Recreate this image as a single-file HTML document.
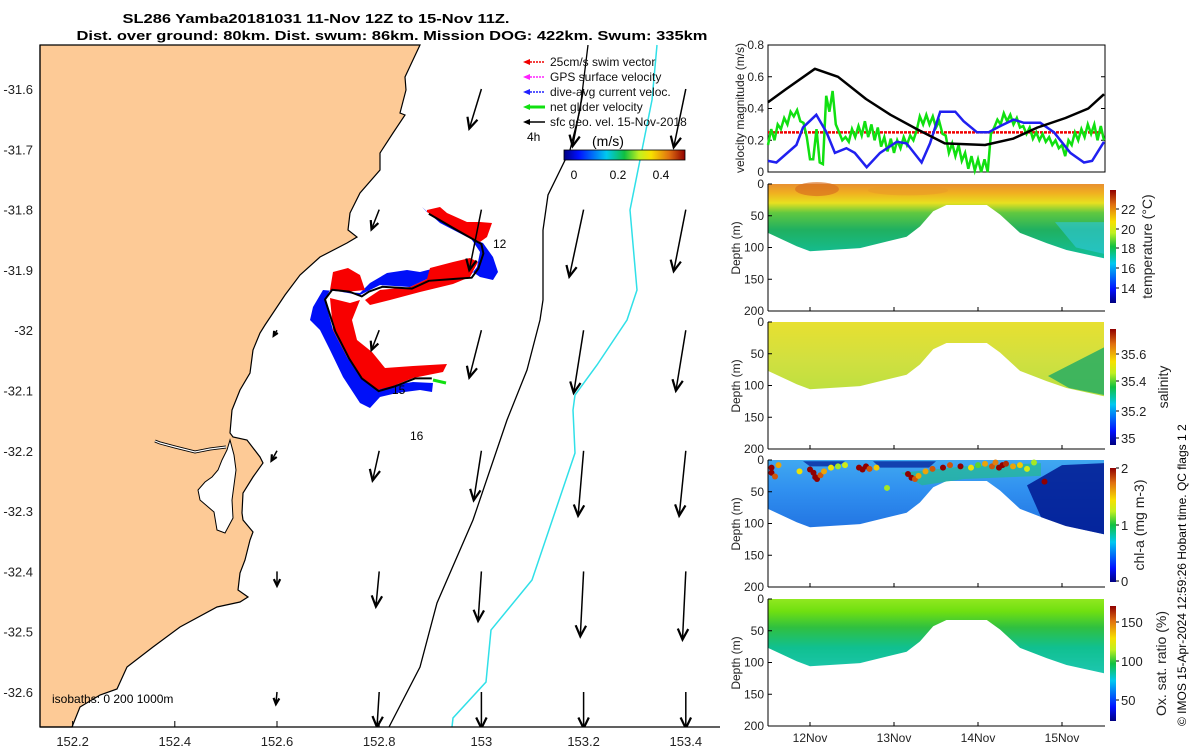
<!DOCTYPE html>
<html><head><meta charset="utf-8"><title>SL286 glider map</title>
<style>
html,body{margin:0;padding:0;background:#fff;}
svg{display:block;font-family:"Liberation Sans","DejaVu Sans",sans-serif;}
</style></head>
<body>
<svg id="fig" width="1200" height="750" viewBox="0 0 1200 750" xmlns="http://www.w3.org/2000/svg">
<defs>
<linearGradient id="jetV" x1="0" y1="1" x2="0" y2="0">
<stop offset="0" stop-color="#000080"/><stop offset="0.12" stop-color="#0010ff"/><stop offset="0.35" stop-color="#00c8f0"/><stop offset="0.5" stop-color="#10c040"/><stop offset="0.62" stop-color="#c0f020"/><stop offset="0.72" stop-color="#f8e000"/><stop offset="0.87" stop-color="#e07010"/><stop offset="1" stop-color="#900000"/>
</linearGradient>
<linearGradient id="jetH" x1="0" y1="0" x2="1" y2="0">
<stop offset="0" stop-color="#000080"/><stop offset="0.12" stop-color="#0010ff"/><stop offset="0.35" stop-color="#00c8f0"/><stop offset="0.5" stop-color="#10c040"/><stop offset="0.62" stop-color="#c0f020"/><stop offset="0.72" stop-color="#f8e000"/><stop offset="0.87" stop-color="#e07010"/><stop offset="1" stop-color="#900000"/>
</linearGradient>
<linearGradient id="gTemp" gradientUnits="userSpaceOnUse" x1="0" y1="184" x2="0" y2="260">
<stop offset="0" stop-color="#e89030"/><stop offset="0.12" stop-color="#f0b020"/><stop offset="0.25" stop-color="#e8e020"/><stop offset="0.38" stop-color="#60c840"/><stop offset="0.6" stop-color="#20b060"/><stop offset="1" stop-color="#10c0a0"/>
</linearGradient>
<linearGradient id="gSal" gradientUnits="userSpaceOnUse" x1="0" y1="322" x2="0" y2="400">
<stop offset="0" stop-color="#e8e030"/><stop offset="0.5" stop-color="#d0e040"/><stop offset="1" stop-color="#b8e040"/>
</linearGradient>
<linearGradient id="gChl" gradientUnits="userSpaceOnUse" x1="0" y1="460" x2="0" y2="535">
<stop offset="0" stop-color="#40a8f0"/><stop offset="0.4" stop-color="#3090f0"/><stop offset="1" stop-color="#2070e0"/>
</linearGradient>
<linearGradient id="gOx" gradientUnits="userSpaceOnUse" x1="0" y1="599" x2="0" y2="680">
<stop offset="0" stop-color="#90e820"/><stop offset="0.15" stop-color="#70e010"/><stop offset="0.35" stop-color="#30c040"/><stop offset="0.6" stop-color="#10c090"/><stop offset="1" stop-color="#20c8b8"/>
</linearGradient>
<clipPath id="mapClip"><rect x="40" y="45" width="680" height="682"/></clipPath>
</defs>

<text x="316" y="23" text-anchor="middle" font-size="13" font-weight="bold" textLength="387" lengthAdjust="spacingAndGlyphs">SL286 Yamba20181031 11-Nov 12Z to 15-Nov 11Z.</text>
<text x="392" y="40" text-anchor="middle" font-size="13" font-weight="bold" textLength="631" lengthAdjust="spacingAndGlyphs">Dist. over ground: 80km. Dist. swum: 86km. Mission DOG: 422km. Swum: 335km</text>

<g id="map"></g>
<g id="vel"></g>
<g id="sections"></g>
<text transform="translate(1186,726) rotate(-90)" font-size="12">© IMOS 15-Apr-2024 12:59:26 Hobart time. QC flags 1  2</text>
</svg>
<script>
const lonTicks = [152.2,152.4,152.6,152.8,153,153.2,153.4];
const latTicks = [-31.6,-31.7,-31.8,-31.9,-32,-32.1,-32.2,-32.3,-32.4,-32.5,-32.6];
const geoLon = [153.0,153.2,153.4, 152.8,153.0,153.2,153.4, 152.6,152.8,153.0,153.2,153.4, 152.6,152.8,153.0,153.2,153.4, 152.6,152.8,153.0,153.2,153.4, 152.6,152.8,153.0,153.2,153.4];
const geoLat = [-31.6,-31.6,-31.6, -31.8,-31.8,-31.8,-31.8, -32.0,-32.0,-32.0,-32.0,-32.0, -32.2,-32.2,-32.2,-32.2,-32.2, -32.4,-32.4,-32.4,-32.4,-32.4, -32.6,-32.6,-32.6,-32.6,-32.6];
const geoU = [-0.11,-0.10,-0.11, -0.07,-0.11,-0.13,-0.11, -0.03,-0.07,-0.11,-0.09,-0.09, -0.05,-0.06,-0.07,-0.05,-0.06, 0.0,-0.03,-0.03,-0.03,-0.03, -0.01,-0.02,0.0,0.0,0.0];
const geoV = [-0.36,-0.52,-0.53, -0.18,-0.55,-0.61,-0.56, -0.05,-0.18,-0.43,-0.57,-0.55, -0.09,-0.27,-0.45,-0.59,-0.59, -0.13,-0.32,-0.45,-0.59,-0.62, -0.11,-0.32,-0.33,-0.33,-0.33];
const blackH = [0,5,13.4,20,28,35,42.5,50.5,62,70,77,85,91.5,96];
const blackV = [0.44,0.52,0.65,0.60,0.46,0.36,0.27,0.18,0.17,0.21,0.28,0.34,0.40,0.49];
const blueH = [0,2.4,8.1,10,13.8,16.7,19.1,22.4,24.8,28.2,32,36.8,39.6,43.9,46.3,49.2,53.5,55.9,59.7,63,66.4,70.2,73.1,77.8,81.7,86.4,90.3,92.6,96];
const blueV = [0.07,0.06,0.17,0.28,0.36,0.25,0.12,0.15,0.12,0.03,0.12,0.19,0.18,0.06,0.18,0.38,0.38,0.32,0.25,0.25,0.29,0.33,0.31,0.31,0.25,0.12,0.06,0.07,0.19];
const greenV = [0.17,0.27,0.2,0.3,0.27,0.34,0.3,0.38,0.35,0.39,0.32,0.31,0.22,0.08,0.08,0.27,0.06,0.05,0.48,0.38,0.51,0.3,0.25,0.2,0.22,0.19,0.27,0.22,0.29,0.23,0.32,0.22,0.3,0.2,0.28,0.16,0.22,0.13,0.21,0.12,0.2,0.15,0.22,0.17,0.23,0.2,0.26,0.35,0.3,0.36,0.3,0.35,0.28,0.32,0.24,0.23,0.12,0.18,0.1,0.17,0.07,0.12,0.02,0.1,0.01,0.08,0.0,0.08,0.0,0.24,0.28,0.33,0.3,0.37,0.32,0.36,0.3,0.34,0.28,0.29,0.24,0.28,0.21,0.25,0.2,0.24,0.19,0.22,0.17,0.2,0.15,0.17,0.1,0.2,0.17,0.25,0.2,0.27,0.22,0.3,0.24,0.3,0.2,0.29,0.2];
const swimSpeed = 0.25;
const velTicks = [0,0.2,0.4,0.6,0.8];
const botH = [0,8.2,12,26.3,39.6,43.4,47.2,51,62.5,66.3,72,79.6,85.3,96];
const botD = [77,98,106,101,83,67,43,33,33,48,77,93,104,117];
const dayTicks = ['12Nov','13Nov','14Nov','15Nov'];
const dayTickH = [12,36,60,84];
const depthTicks = [0,50,100,150,200];
const chlH = [1,1,3,12,13,13.5,14,15,16,18,20,26,27,28,29,31,40,41,42,43,45,47,50,52,55,58,62,64,65,66,67,68,70,72,74,79,2,9,22,34,60,76];
const chlD = [12,20,8,15,20,27,30,24,18,12,10,12,15,10,14,12,22,28,30,25,18,14,12,8,10,12,6,10,4,12,8,6,10,8,14,34,26,18,8,44,8,4];
const chlV = [2,2,1.6,2,2,2,2,1.8,1.6,1.4,1.2,2,2,2,1.8,1.5,2,2,1.8,1.6,1.6,1.8,2,1.8,2,1.4,1.6,1.8,1.7,2,2,1.9,1.6,1.5,1.3,2,1.8,1.4,1.3,1.2,1.1,1.2];
const trackLon = [152.897,152.948,152.981,153.0,153.004,152.994,152.981,152.948,152.897,152.864,152.806,152.780,152.766,152.741,152.708,152.694,152.714,152.741,152.766,152.799,152.831,152.870,152.903];
const trackLat = [-31.807,-31.832,-31.848,-31.857,-31.873,-31.898,-31.913,-31.915,-31.918,-31.931,-31.928,-31.936,-31.944,-31.936,-31.933,-31.949,-32.002,-32.047,-32.080,-32.101,-32.093,-32.080,-32.080];

const NS='http://www.w3.org/2000/svg';
function mk(tag, attrs, parent){const e=document.createElementNS(NS,tag);for(const k in attrs)e.setAttribute(k,attrs[k]);(parent||document.getElementById('fig')).appendChild(e);return e;}
const X = lon => 277+(lon-152.6)*511;
const Y = lat => 89+(-31.6-lat)*603;
const T = h => 768+h*3.5;
const V = v => 172-v*158.75;
function jet(t){t=Math.max(0,Math.min(1,t));const s=[[0,[0,0,128]],[0.12,[0,16,255]],[0.35,[0,200,240]],[0.5,[16,192,64]],[0.62,[192,240,32]],[0.72,[248,224,0]],[0.87,[224,112,16]],[1,[144,0,0]]];for(let i=1;i<s.length;i++){if(t<=s[i][0]){const a=s[i-1],b=s[i],f=(t-a[0])/(b[0]-a[0]);return 'rgb('+a[1].map((c,j)=>Math.round(c+(b[1][j]-c)*f)).join(',')+')';}}return 'rgb(144,0,0)';}

const map=document.getElementById('map');
const land=mk('polygon',{points:"40,45 420,45 412,62 405,77 406,90 400,113 405,115 393,133 380,153 380,170 360,193 350,213 348,230 357,237 347,243 320,257 300,275 285,295 265,325 260,333 253,350 250,373 240,390 232,410 230,433 233,437 247,440 260,457 263,463 253,477 243,493 242,513 243,520 253,532 250,540 245,560 240,573 238,590 248,597 240,602 217,607 180,627 153,647 127,667 117,689 100,695 80,707 72,727 40,727",fill:'#fdca96',stroke:'#000','stroke-width':1.2},map);


const est=mk('polygon',{points:"230,440 227,450 222,460 218,470 212,477 205,482 198,490 200,500 214,512 217,530 225,533 233,518 232,500 236,470 234,455",fill:'#fff',stroke:'#000','stroke-width':1},map);


const riv=mk('polyline',{points:"226,447 210,449 195,452 175,447 160,443 155,441",fill:'none',stroke:'#000','stroke-width':3},map);


mk('polyline',{points:"226,447 210,449 195,452 175,447 160,443 155,441",fill:'none',stroke:'#fff','stroke-width':1.2},map);
const iso200=mk('polyline',{points:"588,45 580,110 570,150 548,195 543,230 543,300 540,320 527,370 507,420 473,520 437,603 420,667 389,727",fill:'none',stroke:'#000','stroke-width':1.3,'clip-path':'url(#mapClip)'},map);


const iso1000=mk('polyline',{points:"657,45 652,100 640,160 630,210 637,290 627,320 597,365 575,395 573,410 575,453 532,580 491,630 486,682 453,718 452,727",fill:'none',stroke:'#30e0e8','stroke-width':1.5},map);


const blue=mk('polygon',{points:"422,207 440,223 467,237 483,243 493,257 498,272 493,280 480,277 470,270 447,265 420,272 407,270 387,273 370,283 360,293 345,292 323,290 313,307 310,320 320,330 330,350 343,377 360,403 370,408 380,397 397,393 420,390 432,392 433,383 413,382 393,385 377,390 360,377 347,357 333,330 325,300 330,290 360,295 380,285 410,287 427,279 453,277 470,276 477,267 480,252 470,237 427,212",fill:'#0010f8'},map);


const red1=mk('polygon',{points:"427,210 440,207 447,213 467,222 480,222 492,223 487,237 480,242 470,237 453,227 427,212",fill:'#f80000'},map);


const red2=mk('polygon',{points:"330,298 350,303 360,300 352,320 357,340 372,352 385,368 413,366 447,364 443,372 413,378 393,386 377,390 360,377 347,357 333,330",fill:'#f80000'},map);


mk('polygon',{points:"430,268 453,262 470,258 478,262 470,277 453,284 420,292 390,300 370,305 365,300 380,290 410,287 427,279",fill:'#f80000'},map);
mk('polygon',{points:"333,272 348,268 360,275 365,290 345,292 330,290",fill:'#f80000'},map);
mk('line',{x1:433,y1:380,x2:446,y2:383,stroke:'#10e010','stroke-width':3},map);
const trackPts=trackLon.map((lo,i)=>X(lo).toFixed(1)+','+Y(trackLat[i]).toFixed(1)).join(' ');
const track=mk('polyline',{points:trackPts,fill:'none',stroke:'#000','stroke-width':2},map);


[['12',493,248],['15',392,394],['16',410,440]].forEach(d=>{const t=mk('text',{x:d[1],y:d[2],'font-size':12},map);t.textContent=d[0];

});
const SC=110;
geoLon.forEach((lo,i)=>{const x0=X(lo),y0=Y(geoLat[i]);const x1=x0+geoU[i]*SC,y1=y0-geoV[i]*SC;
const g=mk('g',{'clip-path':'url(#mapClip)'},map);


mk('line',{x1:x0,y1:y0,x2:x1,y2:y1,stroke:'#000','stroke-width':1.5},g);
const L=Math.hypot(x1-x0,y1-y0);if(L>1){const ux=(x1-x0)/L,uy=(y1-y0)/L;const hl=Math.min(12,L*0.3+3);const a=0.45;
const p1=[x1-hl*(ux*Math.cos(a)-uy*Math.sin(a)),y1-hl*(uy*Math.cos(a)+ux*Math.sin(a))];
const p2=[x1-hl*(ux*Math.cos(a)+uy*Math.sin(a)),y1-hl*(uy*Math.cos(a)-ux*Math.sin(a))];
mk('polyline',{points:p1.join(',')+' '+x1+','+y1+' '+p2.join(','),fill:'none',stroke:'#000','stroke-width':2.2},g);}});
mk('line',{x1:40,y1:45,x2:40,y2:727,stroke:'#000','stroke-width':1.2},map);
mk('line',{x1:40,y1:727,x2:720,y2:727,stroke:'#000','stroke-width':1.2},map);
lonTicks.forEach(l=>{const x=X(l);mk('line',{x1:x,y1:727,x2:x,y2:721,stroke:'#000'},map);const t=mk('text',{x:x,y:746,'text-anchor':'middle','font-size':13,fill:'#222'},map);t.textContent=String(l);

});
latTicks.forEach(l=>{const y=Y(l);const t=mk('text',{x:33,y:y+5,'text-anchor':'end','font-size':13,fill:'#222'},map);t.textContent=String(l);

});
const isoT=mk('text',{x:52,y:703,'font-size':12},map);isoT.textContent='isobaths: 0  200  1000m';


const legItems=[['25cm/s swim vector','#f00000'],['GPS surface velocity','#ff20ff'],['dive-avg current veloc.','#2020ff'],['net glider velocity','#10e010'],['sfc geo. vel. 15-Nov-2018','#000']];
legItems.forEach((it,i)=>{const y=62+i*15;const g=mk('g',{},map);


mk('line',{x1:527,y1:y,x2:545,y2:y,stroke:it[1],'stroke-width':i==3?3:1.5,'stroke-dasharray':i<3?'2,1':'none'},g);
mk('polygon',{points:'523,'+y+' 530,'+(y-3)+' 530,'+(y+3),fill:it[1]},g);
const t=mk('text',{x:550,y:y+4,'font-size':12,fill:'#111'},g);t.textContent=it[0];});
const t4=mk('text',{x:527,y:141,'font-size':12},map);t4.textContent='4h';


const cbl=mk('text',{x:592,y:146,'font-size':14},map);cbl.textContent='(m/s)';


const cb=mk('rect',{x:564,y:150,width:121,height:10,fill:'url(#jetH)',stroke:'#000','stroke-width':0.8},map);


[['0',574],['0.2',618],['0.4',661]].forEach(d=>{const t=mk('text',{x:d[1],y:179,'text-anchor':'middle','font-size':12},map);t.textContent=d[0];});

const vel=document.getElementById('vel');
mk('rect',{x:768,y:45,width:337,height:127,fill:'none',stroke:'#000','stroke-width':1},vel);
velTicks.forEach(v=>{const y=V(v);mk('line',{x1:768,y1:y,x2:772,y2:y,stroke:'#000'},vel);mk('line',{x1:1101,y1:y,x2:1105,y2:y,stroke:'#000'},vel);
const t=mk('text',{x:764,y:y+4,'text-anchor':'end','font-size':12,fill:'#222'},vel);t.textContent=String(v);

});
const vt=mk('text',{transform:'translate(744,108) rotate(-90)','text-anchor':'middle','font-size':12,fill:'#222'},vel);vt.textContent='velocity magnitude (m/s)';


const sw=mk('line',{x1:T(0),y1:V(swimSpeed),x2:T(96),y2:V(swimSpeed),stroke:'#f00000','stroke-width':2.5,'stroke-dasharray':'3,1'},vel);


const gl=mk('polyline',{points:greenV.map((v,i)=>T(i*96/(greenV.length-1)).toFixed(1)+','+V(v).toFixed(1)).join(' '),fill:'none',stroke:'#10e010','stroke-width':2.5},vel);


const bl=mk('polyline',{points:blueH.map((h,i)=>T(h).toFixed(1)+','+V(blueV[i]).toFixed(1)).join(' '),fill:'none',stroke:'#2020f0','stroke-width':2.5},vel);


const kl=mk('polyline',{points:blackH.map((h,i)=>T(h).toFixed(1)+','+V(blackV[i]).toFixed(1)).join(' '),fill:'none',stroke:'#000','stroke-width':2.5,'stroke-linejoin':'round'},vel);



const sec=document.getElementById('sections');
const panels=[
 {y0:184,fill:'url(#gTemp)',name:'temperature',label:'temperature (°C)',lx:1152,cb:[190,303],ticks:[['22',209],['20',229],['18',248],['16',268],['14',288]]},
 {y0:322,fill:'url(#gSal)',name:'salinity',label:'salinity',lx:1168,cb:[329,445],ticks:[['35.6',354],['35.4',381],['35.2',411],['35',438]]},
 {y0:460,fill:'url(#gChl)',name:'chl-a',label:'chl-a (mg m-3)',lx:1144,cb:[468,582],ticks:[['2',468],['1',525],['0',581]]},
 {y0:599,fill:'url(#gOx)',name:'oxygen',label:'Ox. sat. ratio (%)',lx:1166,cb:[606,721],ticks:[['150',622],['100',661],['50',700]]}
];
panels.forEach((p,pi)=>{
 const D=d=>p.y0+d*0.635;
 const g=mk('g',{},sec);
 
 
 const pts=[T(0)+','+D(0)].concat(botH.map((h,i)=>T(h).toFixed(1)+','+D(botD[i]).toFixed(1))).concat([T(96)+','+D(0)]).join(' ');
 mk('polygon',{points:pts,fill:p.fill},g);
 if(pi===0){mk('ellipse',{cx:T(14),cy:D(8),rx:22,ry:7,fill:'#d87020',opacity:0.7},g);mk('ellipse',{cx:T(40),cy:D(10),rx:40,ry:5,fill:'#e89828',opacity:0.5},g);
  mk('polygon',{points:[T(82)+','+D(60),T(96)+','+D(60),T(96)+','+D(110),T(88)+','+D(100)].join(' '),fill:'#30c8e0',opacity:0.6},g);}
 if(pi===1){mk('polygon',{points:[T(80)+','+D(85),T(96)+','+D(40),T(96)+','+D(115),T(86)+','+D(104)].join(' '),fill:'#30b060',opacity:0.9},g);}
 if(pi===2){
  mk('polygon',{points:[T(74)+','+D(40),T(84)+','+D(8),T(96)+','+D(5),T(96)+','+D(117),T(85)+','+D(104),T(78)+','+D(90)].join(' '),fill:'#001890',opacity:0.85},g);
  mk('polygon',{points:[T(30)+','+D(2),T(48)+','+D(2),T(46)+','+D(12),T(32)+','+D(12)].join(' '),fill:'#0828a0',opacity:0.8},g);
  mk('polygon',{points:[T(10)+','+D(2),T(22)+','+D(2),T(20)+','+D(10),T(12)+','+D(10)].join(' '),fill:'#0828a0',opacity:0.8},g);
  mk('polygon',{points:[T(38)+','+D(20),T(56)+','+D(10),T(78)+','+D(5),T(78)+','+D(25),T(56)+','+D(30),T(44)+','+D(40)].join(' '),fill:'#20c080',opacity:0.6},g);
  chlH.forEach((h,i)=>{const c=mk('circle',{cx:T(h),cy:D(chlD[i]),r:3,fill:jet(chlV[i]/2)},g);
   
   });
 }
 mk('line',{x1:768,y1:p.y0,x2:768,y2:p.y0+127,stroke:'#000'},g);
 mk('line',{x1:768,y1:p.y0+127,x2:1105,y2:p.y0+127,stroke:'#000'},g);
 depthTicks.forEach(d=>{const y=D(d);mk('line',{x1:768,y1:y,x2:772,y2:y,stroke:'#000'},g);
  const t=mk('text',{x:764,y:y+4,'text-anchor':'end','font-size':12,fill:'#222'},g);t.textContent=String(d);
  
  });
 const yl=mk('text',{transform:'translate(740,'+(p.y0+64)+') rotate(-90)','text-anchor':'middle','font-size':12,fill:'#222'},g);yl.textContent='Depth (m)';
 
 
 dayTickH.forEach(h=>{mk('line',{x1:T(h),y1:p.y0+127,x2:T(h),y2:p.y0+123,stroke:'#000'},g);});
 const r=mk('rect',{x:1110,y:p.cb[0],width:6,height:p.cb[1]-p.cb[0],fill:'url(#jetV)'},g);
 
 
 p.ticks.forEach(tk=>{mk('line',{x1:1116,y1:tk[1],x2:1119,y2:tk[1],stroke:'#000'},g);const t=mk('text',{x:1121,y:tk[1]+5,'font-size':13,fill:'#222'},g);t.textContent=tk[0];});
 const cl=mk('text',{transform:'translate('+p.lx+','+((p.cb[0]+p.cb[1])/2)+') rotate(-90)','text-anchor':'middle','font-size':14,fill:'#222'},g);cl.textContent=p.label;
 
 
});
dayTicks.forEach((d,i)=>{const t=mk('text',{x:T(dayTickH[i]),y:742,'text-anchor':'middle','font-size':12,fill:'#222'},sec);t.textContent=d;

});
</script>
</body></html>
